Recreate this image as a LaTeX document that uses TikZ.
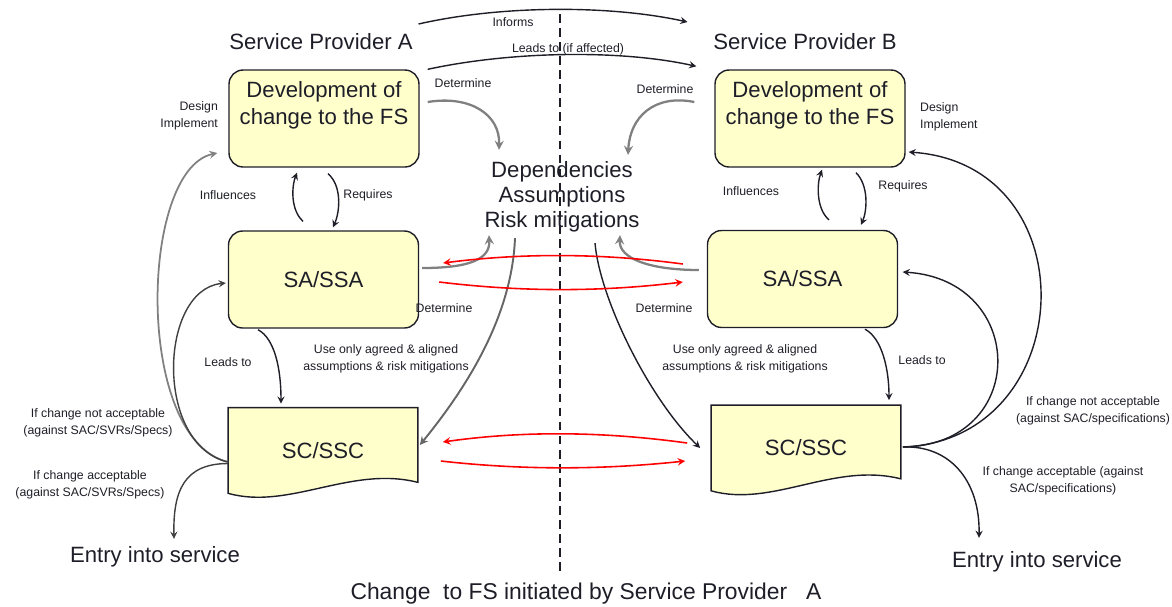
\documentclass[tikz,border=0pt]{standalone}
\usepackage{fontspec}
\setmainfont{Liberation Sans}
\usetikzlibrary{arrows,backgrounds}
\definecolor{boxyellow}{RGB}{255,255,204}
\definecolor{inkgrey}{RGB}{30,30,40}

\begin{document}
\begin{tikzpicture}[
    x=0.02cm, y=-0.02cm,
    every node/.style={text=inkgrey},
    box/.style={rectangle, draw=inkgrey, line width=0.8pt, fill=boxyellow, rounded corners=8pt, minimum width=3.8cm, minimum height=1.94cm, align=center, font=\fontsize{12.6}{15.3}\selectfont},
    doc/.style={rectangle, minimum width=3.78cm, minimum height=1.7cm, font=\fontsize{12.6}{15}\selectfont},
    docshape/.style={draw=inkgrey, line width=0.8pt, fill=boxyellow},
    big/.style={font=\fontsize{12.6}{14.2}\selectfont, align=center, inner sep=2pt},
    lbl/.style={font=\fontsize{7}{9.8}\selectfont, align=center, inner sep=1pt},
    arrow/.style={->, >=stealth, line width=0.8pt, draw=inkgrey},
    grayarrow/.style={->, >=stealth, line width=1.3pt, draw=black!50},
    redarrow/.style={->, >=stealth, line width=0.9pt, draw=red}
]
    \useasboundingbox (0,0) rectangle (1172,606);

    % Divider between the two providers
    \draw[dashed, dash pattern=on 5pt off 3pt, line width=0.7pt, draw=inkgrey] (560,14) -- (560,575);

    % Provider titles
    \node[big] (spA) at (321,42) {Service Provider A};
    \node[big] (spB) at (805,42) {Service Provider B};

    % Provider A boxes
    \node[box] (devA) at (324,118.5) {Development of\\change to the FS\\\rule[-2pt]{0pt}{0pt}};
    \node[box] (saA) at (323.5,279.5) {SA/SSA};
    \node[doc] (scA) at (323,450.5) {SC/SSC};

    % Provider B boxes
    \node[box] (devB) at (810,118.5) {Development of\\change to the FS\\\rule[-2pt]{0pt}{0pt}};
    \node[box] (saB) at (802.5,279) {SA/SSA};
    \node[doc] (scB) at (806,448) {SC/SSC};

    % Document outlines
    \begin{scope}[on background layer]
        \path[docshape] (scA.north west) -- (scA.north east) -- ([shift={(0,-11)}]scA.south east) .. controls +(-67,-17) and +(61,17) .. (scA.south west) -- cycle;
        \path[docshape] (scB.north west) -- (scB.north east) -- ([shift={(0,-12)}]scB.south east) .. controls +(-67,-17) and +(61,17) .. (scB.south west) -- cycle;
    \end{scope}

    % Shared items
    \node[big] (dep) at (562,197) {Dependencies\\Assumptions\\Risk mitigations};
    \node[big] (entA) at (155,557) {Entry into service};
    \node[big] (entB) at (1037,562) {Entry into service};
    \node[big, font=\fontsize{13}{15}\selectfont] (caption) at (586,594) {Change\ \ to\ FS initiated by\ Service Provider\ \ \ A};

    % Labels
    \node[lbl] (informs) at (513,22) {Informs};
    \node[lbl] (affected) at (568,49) {Leads to (if affected)};
    \node[lbl] (detA1) at (463,83) {Determine};
    \node[lbl] (detB1) at (665,89) {Determine};
    \node[lbl] (detA2) at (444,308) {Determine};
    \node[lbl] (detB2) at (664,308) {Determine};
    \node[lbl, anchor=east, align=right] (designA) at (220,115.5) {Design\\Implement};
    \node[lbl, anchor=west, align=left] (designB) at (918,117) {Design\\Implement};
    \node[lbl] (inflA) at (228,195) {Influences};
    \node[lbl] (reqA) at (368,195) {Requires};
    \node[lbl] (inflB) at (751,191) {Influences};
    \node[lbl] (reqB) at (903,186) {Requires};
    \node[lbl] (leadsA) at (228,362) {Leads to};
    \node[lbl] (leadsB) at (922,360) {Leads to};
    \node[lbl] (useA) at (386,358.5) {Use only agreed \& aligned\\assumptions \& risk mitigations};
    \node[lbl] (useB) at (745,358.5) {Use only agreed \& aligned\\assumptions \& risk mitigations};
    \node[lbl] (notokA) at (98,423) {If change not acceptable\\(against SAC/SVRs/Specs)};
    \node[lbl] (okA) at (90,484.5) {If change acceptable\\(against SAC/SVRs/Specs)};
    \node[lbl] (notokB) at (1093,411) {If change not acceptable\\(against SAC/specifications)};
    \node[lbl] (okB) at (1063,480.5) {If change acceptable (against\\SAC/specifications)};

    % Arrows between providers
    \draw[arrow] ([shift={(2,-6)}]spA.north east) .. controls +(83,-19) and +(-77,-17) .. ([shift={(-22,-8)}]spB.north west);
    \draw[arrow] ([shift={(8,0)}]devA.north east) .. controls +(83,-18) and +(-77,-17) .. ([shift={(-18,-3)}]devB.north west);

    % Determine
    \draw[grayarrow] ([shift={(8,-16.5)}]devA.east) .. controls +(43,-7) and +(1,-35) .. ([shift={(-63,-8)}]dep.north);
    \draw[grayarrow] ([shift={(-20,-16.5)}]devB.west) .. controls +(-40,-8) and +(2,-38) .. ([shift={(66,-3)}]dep.north);
    \draw[grayarrow] ([shift={(3,-11.5)}]saA.east) .. controls +(50,0) and +(1,23) .. ([shift={(-73,-1)}]dep.south);
    \draw[grayarrow] ([shift={(-8,-9)}]saB.west) .. controls +(-50,0) and +(-1,23) .. ([shift={(58,-1)}]dep.south);

    % Use only agreed assumptions
    \draw[grayarrow, line width=1.1pt, draw=black!60] ([shift={(-47,2)}]dep.south) .. controls +(-3,73) and +(53,-65) .. ([shift={(2,-5.5)}]scA.east);
    \draw[arrow] ([shift={(33,7)}]dep.south) .. controls +(5,57) and +(-50,-48) .. ([shift={(-11,0)}]scB.west);

    % Alignment between providers
    \draw[redarrow] ([shift={(-24,-15)}]saB.west) .. controls +(-82,-11) and +(78,-10) .. ([shift={(24,-16.5)}]saA.east);
    \draw[redarrow] ([shift={(20,2.5)}]saA.east) .. controls +(82,10) and +(-83,10) .. ([shift={(-24,3)}]saB.west);
    \draw[redarrow] ([shift={(-24,-5)}]scB.west) .. controls +(-87,-12) and +(78,-11) .. ([shift={(25,-8.5)}]scA.east);
    \draw[redarrow] ([shift={(23,10.5)}]scA.east) .. controls +(80,9) and +(-85,9) .. ([shift={(-26,13)}]scB.west);

    % Influences / Requires
    \draw[arrow] ([shift={(-20.5,-9)}]saA.north) .. controls +(-13,-12) and +(-5,13) .. ([shift={(-27,5)}]devA.south);
    \draw[arrow] ([shift={(4,6)}]devA.south) .. controls +(14,12) and +(7,-16) .. ([shift={(9.5,-3)}]saA.north);
    \draw[arrow] ([shift={(26.5,-10)}]saB.north) .. controls +(-13,-11) and +(-5,14) .. ([shift={(12,2)}]devB.south);
    \draw[arrow] ([shift={(46,5)}]devB.south) .. controls +(13,13) and +(6,-14) .. ([shift={(58.5,-5)}]saB.north);

    % Leads to
    \draw[arrow] ([shift={(-65.5,1)}]saA.south) .. controls +(17,9) and +(0,-34) .. ([shift={(-42,-4)}]scA.north);
    \draw[arrow] ([shift={(62.5,1)}]saB.south) .. controls +(17,9) and +(0,-31) .. ([shift={(83,-5)}]scB.north);

    % Feedback loops of provider A
    \draw[grayarrow, line width=1pt, draw=black!50] ([shift={(0,11.5)}]scA.west) .. controls +(-94,-22) and +(-78,17) .. ([shift={(-11,34.5)}]devA.west);
    \draw[arrow, draw=black!75] ([shift={(0,11.5)}]scA.west) .. controls +(-74,-17) and +(-67,7) .. ([shift={(-2,3.5)}]saA.west);
    \draw[arrow, draw=black!75] ([shift={(0,13)}]scA.west) .. controls +(-44,0) and +(-1,-48) .. ([shift={(19,-4)}]entA.north);

    % Feedback loops of provider B
    \draw[arrow] ([shift={(2,-1)}]scB.east) .. controls +(177,-7) and +(182,13) .. ([shift={(3,33.5)}]devB.east);
    \draw[arrow] ([shift={(2,-1)}]scB.east) .. controls +(127,-2) and +(125,8) .. ([shift={(4.5,-7)}]saB.east);
    \draw[arrow] ([shift={(2,-1)}]scB.east) .. controls +(47,-2) and +(1,-57) .. ([shift={(-58,-10)}]entB.north);
\end{tikzpicture}
\end{document}
